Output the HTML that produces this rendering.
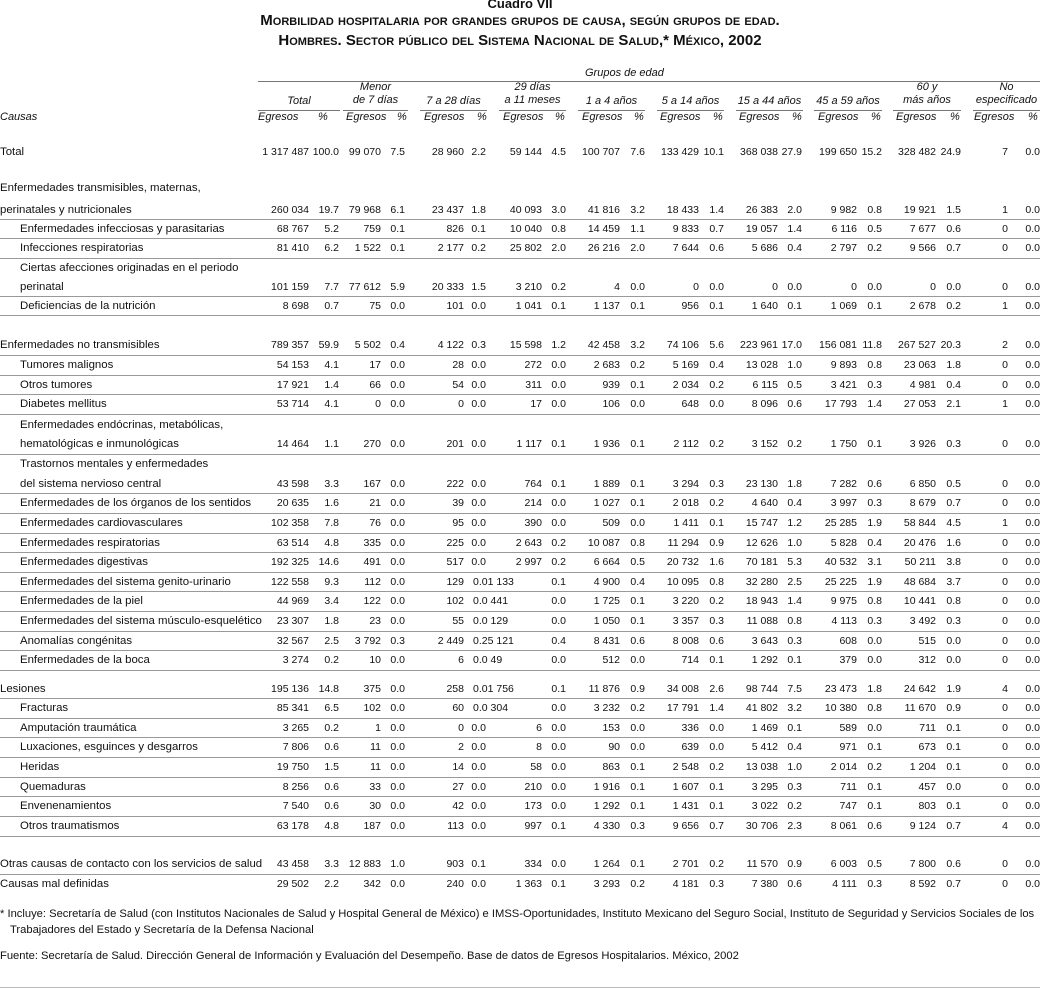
<!DOCTYPE html>
<html><head><meta charset="utf-8">
<style>
body{margin:0;width:1040px;height:990px;background:#fff;position:relative;overflow:hidden;font-family:"Liberation Sans",sans-serif;font-size:11px;color:#111}
.t{position:absolute;left:0;width:1040px;text-align:center;font-weight:bold;font-size:15px;font-variant:small-caps;line-height:18px}
.r{position:absolute;left:0;width:1040px;height:14px;line-height:14px}
.r span{position:absolute;left:0;white-space:nowrap;font-size:11.4px}
.r span.in{left:20px}
.r i{position:absolute;font-style:normal;white-space:nowrap;font-size:10.5px}
.a1{right:731px}.a2{right:701px}.a3{right:659px}.a4{right:635px}.a5{right:576px}.a6{right:554px}.a7{right:498px}.a8{right:474px}.a9{right:420px}.a10{right:395px}.a11{right:341px}.a12{right:316px}.a13{right:262px}.a14{right:238px}.a15{right:183px}.a16{right:158px}.a17{right:104px}.a18{right:79px}.a19{right:32px}.a20{right:0}
.bk{left:473px}
.ln{position:absolute;left:0;width:1040px;height:1px;background:#999}
.h{position:absolute;font-style:italic;font-size:11px;line-height:13px;text-align:center;white-space:nowrap}
.ul{position:absolute;height:1px;background:#777;top:110px}
.f{position:absolute;left:0;font-size:11.2px;line-height:14px;white-space:nowrap}
</style></head><body>
<div class="t" style="top:-5px;font-variant:normal;font-size:13px">Cuadro VII</div>
<div class="t" style="top:12px">Morbilidad hospitalaria por grandes grupos de causa, según grupos de edad.</div>
<div class="t" style="top:32px">Hombres. Sector público del Sistema Nacional de Salud,* México, 2002</div>

<div class="h" style="left:585px;top:67px">Grupos de edad</div>
<div class="ln" style="left:258px;width:782px;top:81px;background:#777"></div>
<div class="h" style="left:258px;width:82px;top:95px">Total</div>
<div class="h" style="left:343px;width:65px;top:81px">Menor<br>de 7 días</div>
<div class="h" style="left:420px;width:67px;top:95px">7 a 28 días</div>
<div class="h" style="left:499px;width:67px;top:81px">29 días<br>a 11 meses</div>
<div class="h" style="left:578px;width:67px;top:95px">1 a 4 años</div>
<div class="h" style="left:657px;width:67px;top:95px">5 a 14 años</div>
<div class="h" style="left:736px;width:67px;top:95px">15 a 44 años</div>
<div class="h" style="left:814px;width:68px;top:95px">45 a 59 años</div>
<div class="h" style="left:893px;width:68px;top:81px">60 y<br>más años</div>
<div class="h" style="left:973px;width:67px;top:81px">No<br>especificado</div>
<div class="ul" style="left:258px;width:82px"></div>
<div class="ul" style="left:343px;width:65px"></div>
<div class="ul" style="left:420px;width:67px"></div>
<div class="ul" style="left:499px;width:67px"></div>
<div class="ul" style="left:578px;width:67px"></div>
<div class="ul" style="left:657px;width:67px"></div>
<div class="ul" style="left:736px;width:67px"></div>
<div class="ul" style="left:814px;width:68px"></div>
<div class="ul" style="left:893px;width:68px"></div>
<div class="ul" style="left:973px;width:67px"></div>
<div class="h" style="left:0;top:111px">Causas</div>
<div class="h" style="left:258px;top:111px">Egresos</div><div class="h" style="left:318px;top:111px">%</div>
<div class="h" style="left:346px;top:111px">Egresos</div><div class="h" style="left:397px;top:111px">%</div>
<div class="h" style="left:424px;top:111px">Egresos</div><div class="h" style="left:477px;top:111px">%</div>
<div class="h" style="left:503px;top:111px">Egresos</div><div class="h" style="left:555px;top:111px">%</div>
<div class="h" style="left:582px;top:111px">Egresos</div><div class="h" style="left:634px;top:111px">%</div>
<div class="h" style="left:660px;top:111px">Egresos</div><div class="h" style="left:713px;top:111px">%</div>
<div class="h" style="left:739px;top:111px">Egresos</div><div class="h" style="left:792px;top:111px">%</div>
<div class="h" style="left:818px;top:111px">Egresos</div><div class="h" style="left:871px;top:111px">%</div>
<div class="h" style="left:896px;top:111px">Egresos</div><div class="h" style="left:950px;top:111px">%</div>
<div class="h" style="left:974px;top:111px">Egresos</div><div class="h" style="left:1028px;top:111px">%</div>

<div class="r" style="top:145px"><span>Total</span><i class="a1">1 317 487</i><i class="a2">100.0</i><i class="a3">99 070</i><i class="a4">7.5</i><i class="a5">28 960</i><i class="a6">2.2</i><i class="a7">59 144</i><i class="a8">4.5</i><i class="a9">100 707</i><i class="a10">7.6</i><i class="a11">133 429</i><i class="a12">10.1</i><i class="a13">368 038</i><i class="a14">27.9</i><i class="a15">199 650</i><i class="a16">15.2</i><i class="a17">328 482</i><i class="a18">24.9</i><i class="a19">7</i><i class="a20">0.0</i></div>

<div class="r" style="top:181px"><span>Enfermedades transmisibles, maternas,</span></div>
<div class="r" style="top:203px"><span>perinatales y nutricionales</span><i class="a1">260 034</i><i class="a2">19.7</i><i class="a3">79 968</i><i class="a4">6.1</i><i class="a5">23 437</i><i class="a6">1.8</i><i class="a7">40 093</i><i class="a8">3.0</i><i class="a9">41 816</i><i class="a10">3.2</i><i class="a11">18 433</i><i class="a12">1.4</i><i class="a13">26 383</i><i class="a14">2.0</i><i class="a15">9 982</i><i class="a16">0.8</i><i class="a17">19 921</i><i class="a18">1.5</i><i class="a19">1</i><i class="a20">0.0</i></div>
<div class="ln" style="top:219px"></div>
<div class="r" style="top:222px"><span class="in">Enfermedades infecciosas y parasitarias</span><i class="a1">68 767</i><i class="a2">5.2</i><i class="a3">759</i><i class="a4">0.1</i><i class="a5">826</i><i class="a6">0.1</i><i class="a7">10 040</i><i class="a8">0.8</i><i class="a9">14 459</i><i class="a10">1.1</i><i class="a11">9 833</i><i class="a12">0.7</i><i class="a13">19 057</i><i class="a14">1.4</i><i class="a15">6 116</i><i class="a16">0.5</i><i class="a17">7 677</i><i class="a18">0.6</i><i class="a19">0</i><i class="a20">0.0</i></div>
<div class="ln" style="top:238px"></div>
<div class="r" style="top:241px"><span class="in">Infecciones respiratorias</span><i class="a1">81 410</i><i class="a2">6.2</i><i class="a3">1 522</i><i class="a4">0.1</i><i class="a5">2 177</i><i class="a6">0.2</i><i class="a7">25 802</i><i class="a8">2.0</i><i class="a9">26 216</i><i class="a10">2.0</i><i class="a11">7 644</i><i class="a12">0.6</i><i class="a13">5 686</i><i class="a14">0.4</i><i class="a15">2 797</i><i class="a16">0.2</i><i class="a17">9 566</i><i class="a18">0.7</i><i class="a19">0</i><i class="a20">0.0</i></div>
<div class="ln" style="top:258px"></div>
<div class="r" style="top:261px"><span class="in">Ciertas afecciones originadas en el periodo</span></div>
<div class="r" style="top:280px"><span class="in">perinatal</span><i class="a1">101 159</i><i class="a2">7.7</i><i class="a3">77 612</i><i class="a4">5.9</i><i class="a5">20 333</i><i class="a6">1.5</i><i class="a7">3 210</i><i class="a8">0.2</i><i class="a9">4</i><i class="a10">0.0</i><i class="a11">0</i><i class="a12">0.0</i><i class="a13">0</i><i class="a14">0.0</i><i class="a15">0</i><i class="a16">0.0</i><i class="a17">0</i><i class="a18">0.0</i><i class="a19">0</i><i class="a20">0.0</i></div>
<div class="ln" style="top:296px"></div>
<div class="r" style="top:299px"><span class="in">Deficiencias de la nutrición</span><i class="a1">8 698</i><i class="a2">0.7</i><i class="a3">75</i><i class="a4">0.0</i><i class="a5">101</i><i class="a6">0.0</i><i class="a7">1 041</i><i class="a8">0.1</i><i class="a9">1 137</i><i class="a10">0.1</i><i class="a11">956</i><i class="a12">0.1</i><i class="a13">1 640</i><i class="a14">0.1</i><i class="a15">1 069</i><i class="a16">0.1</i><i class="a17">2 678</i><i class="a18">0.2</i><i class="a19">1</i><i class="a20">0.0</i></div>
<div class="ln" style="top:315px"></div>

<div class="r" style="top:338px"><span>Enfermedades no transmisibles</span><i class="a1">789 357</i><i class="a2">59.9</i><i class="a3">5 502</i><i class="a4">0.4</i><i class="a5">4 122</i><i class="a6">0.3</i><i class="a7">15 598</i><i class="a8">1.2</i><i class="a9">42 458</i><i class="a10">3.2</i><i class="a11">74 106</i><i class="a12">5.6</i><i class="a13">223 961</i><i class="a14">17.0</i><i class="a15">156 081</i><i class="a16">11.8</i><i class="a17">267 527</i><i class="a18">20.3</i><i class="a19">2</i><i class="a20">0.0</i></div>
<div class="ln" style="top:355px"></div>
<div class="r" style="top:358px"><span class="in">Tumores malignos</span><i class="a1">54 153</i><i class="a2">4.1</i><i class="a3">17</i><i class="a4">0.0</i><i class="a5">28</i><i class="a6">0.0</i><i class="a7">272</i><i class="a8">0.0</i><i class="a9">2 683</i><i class="a10">0.2</i><i class="a11">5 169</i><i class="a12">0.4</i><i class="a13">13 028</i><i class="a14">1.0</i><i class="a15">9 893</i><i class="a16">0.8</i><i class="a17">23 063</i><i class="a18">1.8</i><i class="a19">0</i><i class="a20">0.0</i></div>
<div class="ln" style="top:375px"></div>
<div class="r" style="top:378px"><span class="in">Otros tumores</span><i class="a1">17 921</i><i class="a2">1.4</i><i class="a3">66</i><i class="a4">0.0</i><i class="a5">54</i><i class="a6">0.0</i><i class="a7">311</i><i class="a8">0.0</i><i class="a9">939</i><i class="a10">0.1</i><i class="a11">2 034</i><i class="a12">0.2</i><i class="a13">6 115</i><i class="a14">0.5</i><i class="a15">3 421</i><i class="a16">0.3</i><i class="a17">4 981</i><i class="a18">0.4</i><i class="a19">0</i><i class="a20">0.0</i></div>
<div class="ln" style="top:394px"></div>
<div class="r" style="top:397px"><span class="in">Diabetes mellitus</span><i class="a1">53 714</i><i class="a2">4.1</i><i class="a3">0</i><i class="a4">0.0</i><i class="a5">0</i><i class="a6">0.0</i><i class="a7">17</i><i class="a8">0.0</i><i class="a9">106</i><i class="a10">0.0</i><i class="a11">648</i><i class="a12">0.0</i><i class="a13">8 096</i><i class="a14">0.6</i><i class="a15">17 793</i><i class="a16">1.4</i><i class="a17">27 053</i><i class="a18">2.1</i><i class="a19">1</i><i class="a20">0.0</i></div>
<div class="ln" style="top:414px"></div>
<div class="r" style="top:418px"><span class="in">Enfermedades endócrinas, metabólicas,</span></div>
<div class="r" style="top:437px"><span class="in">hematológicas e inmunológicas</span><i class="a1">14 464</i><i class="a2">1.1</i><i class="a3">270</i><i class="a4">0.0</i><i class="a5">201</i><i class="a6">0.0</i><i class="a7">1 117</i><i class="a8">0.1</i><i class="a9">1 936</i><i class="a10">0.1</i><i class="a11">2 112</i><i class="a12">0.2</i><i class="a13">3 152</i><i class="a14">0.2</i><i class="a15">1 750</i><i class="a16">0.1</i><i class="a17">3 926</i><i class="a18">0.3</i><i class="a19">0</i><i class="a20">0.0</i></div>
<div class="ln" style="top:454px"></div>
<div class="r" style="top:457px"><span class="in">Trastornos mentales y enfermedades</span></div>
<div class="r" style="top:477px"><span class="in">del sistema nervioso central</span><i class="a1">43 598</i><i class="a2">3.3</i><i class="a3">167</i><i class="a4">0.0</i><i class="a5">222</i><i class="a6">0.0</i><i class="a7">764</i><i class="a8">0.1</i><i class="a9">1 889</i><i class="a10">0.1</i><i class="a11">3 294</i><i class="a12">0.3</i><i class="a13">23 130</i><i class="a14">1.8</i><i class="a15">7 282</i><i class="a16">0.6</i><i class="a17">6 850</i><i class="a18">0.5</i><i class="a19">0</i><i class="a20">0.0</i></div>
<div class="ln" style="top:493px"></div>
<div class="r" style="top:496px"><span class="in">Enfermedades de los órganos de los sentidos</span><i class="a1">20 635</i><i class="a2">1.6</i><i class="a3">21</i><i class="a4">0.0</i><i class="a5">39</i><i class="a6">0.0</i><i class="a7">214</i><i class="a8">0.0</i><i class="a9">1 027</i><i class="a10">0.1</i><i class="a11">2 018</i><i class="a12">0.2</i><i class="a13">4 640</i><i class="a14">0.4</i><i class="a15">3 997</i><i class="a16">0.3</i><i class="a17">8 679</i><i class="a18">0.7</i><i class="a19">0</i><i class="a20">0.0</i></div>
<div class="ln" style="top:513px"></div>
<div class="r" style="top:516px"><span class="in">Enfermedades cardiovasculares</span><i class="a1">102 358</i><i class="a2">7.8</i><i class="a3">76</i><i class="a4">0.0</i><i class="a5">95</i><i class="a6">0.0</i><i class="a7">390</i><i class="a8">0.0</i><i class="a9">509</i><i class="a10">0.0</i><i class="a11">1 411</i><i class="a12">0.1</i><i class="a13">15 747</i><i class="a14">1.2</i><i class="a15">25 285</i><i class="a16">1.9</i><i class="a17">58 844</i><i class="a18">4.5</i><i class="a19">1</i><i class="a20">0.0</i></div>
<div class="ln" style="top:533px"></div>
<div class="r" style="top:536px"><span class="in">Enfermedades respiratorias</span><i class="a1">63 514</i><i class="a2">4.8</i><i class="a3">335</i><i class="a4">0.0</i><i class="a5">225</i><i class="a6">0.0</i><i class="a7">2 643</i><i class="a8">0.2</i><i class="a9">10 087</i><i class="a10">0.8</i><i class="a11">11 294</i><i class="a12">0.9</i><i class="a13">12 626</i><i class="a14">1.0</i><i class="a15">5 828</i><i class="a16">0.4</i><i class="a17">20 476</i><i class="a18">1.6</i><i class="a19">0</i><i class="a20">0.0</i></div>
<div class="ln" style="top:552px"></div>
<div class="r" style="top:555px"><span class="in">Enfermedades digestivas</span><i class="a1">192 325</i><i class="a2">14.6</i><i class="a3">491</i><i class="a4">0.0</i><i class="a5">517</i><i class="a6">0.0</i><i class="a7">2 997</i><i class="a8">0.2</i><i class="a9">6 664</i><i class="a10">0.5</i><i class="a11">20 732</i><i class="a12">1.6</i><i class="a13">70 181</i><i class="a14">5.3</i><i class="a15">40 532</i><i class="a16">3.1</i><i class="a17">50 211</i><i class="a18">3.8</i><i class="a19">0</i><i class="a20">0.0</i></div>
<div class="ln" style="top:572px"></div>
<div class="r" style="top:575px"><span class="in">Enfermedades del sistema genito-urinario</span><i class="a1">122 558</i><i class="a2">9.3</i><i class="a3">112</i><i class="a4">0.0</i><i class="a5">129</i><i class="bk">0.01 133</i><i class="a8">0.1</i><i class="a9">4 900</i><i class="a10">0.4</i><i class="a11">10 095</i><i class="a12">0.8</i><i class="a13">32 280</i><i class="a14">2.5</i><i class="a15">25 225</i><i class="a16">1.9</i><i class="a17">48 684</i><i class="a18">3.7</i><i class="a19">0</i><i class="a20">0.0</i></div>
<div class="ln" style="top:591px"></div>
<div class="r" style="top:594px"><span class="in">Enfermedades de la piel</span><i class="a1">44 969</i><i class="a2">3.4</i><i class="a3">122</i><i class="a4">0.0</i><i class="a5">102</i><i class="bk">0.0 441</i><i class="a8">0.0</i><i class="a9">1 725</i><i class="a10">0.1</i><i class="a11">3 220</i><i class="a12">0.2</i><i class="a13">18 943</i><i class="a14">1.4</i><i class="a15">9 975</i><i class="a16">0.8</i><i class="a17">10 441</i><i class="a18">0.8</i><i class="a19">0</i><i class="a20">0.0</i></div>
<div class="ln" style="top:611px"></div>
<div class="r" style="top:614px"><span class="in">Enfermedades del sistema músculo-esquelético</span><i class="a1">23 307</i><i class="a2">1.8</i><i class="a3">23</i><i class="a4">0.0</i><i class="a5">55</i><i class="bk">0.0 129</i><i class="a8">0.0</i><i class="a9">1 050</i><i class="a10">0.1</i><i class="a11">3 357</i><i class="a12">0.3</i><i class="a13">11 088</i><i class="a14">0.8</i><i class="a15">4 113</i><i class="a16">0.3</i><i class="a17">3 492</i><i class="a18">0.3</i><i class="a19">0</i><i class="a20">0.0</i></div>
<div class="ln" style="top:631px"></div>
<div class="r" style="top:634px"><span class="in">Anomalías congénitas</span><i class="a1">32 567</i><i class="a2">2.5</i><i class="a3">3 792</i><i class="a4">0.3</i><i class="a5">2 449</i><i class="bk">0.25 121</i><i class="a8">0.4</i><i class="a9">8 431</i><i class="a10">0.6</i><i class="a11">8 008</i><i class="a12">0.6</i><i class="a13">3 643</i><i class="a14">0.3</i><i class="a15">608</i><i class="a16">0.0</i><i class="a17">515</i><i class="a18">0.0</i><i class="a19">0</i><i class="a20">0.0</i></div>
<div class="ln" style="top:650px"></div>
<div class="r" style="top:653px"><span class="in">Enfermedades de la boca</span><i class="a1">3 274</i><i class="a2">0.2</i><i class="a3">10</i><i class="a4">0.0</i><i class="a5">6</i><i class="bk">0.0 49</i><i class="a8">0.0</i><i class="a9">512</i><i class="a10">0.0</i><i class="a11">714</i><i class="a12">0.1</i><i class="a13">1 292</i><i class="a14">0.1</i><i class="a15">379</i><i class="a16">0.0</i><i class="a17">312</i><i class="a18">0.0</i><i class="a19">0</i><i class="a20">0.0</i></div>
<div class="ln" style="top:670px"></div>

<div class="r" style="top:682px"><span>Lesiones</span><i class="a1">195 136</i><i class="a2">14.8</i><i class="a3">375</i><i class="a4">0.0</i><i class="a5">258</i><i class="bk">0.01 756</i><i class="a8">0.1</i><i class="a9">11 876</i><i class="a10">0.9</i><i class="a11">34 008</i><i class="a12">2.6</i><i class="a13">98 744</i><i class="a14">7.5</i><i class="a15">23 473</i><i class="a16">1.8</i><i class="a17">24 642</i><i class="a18">1.9</i><i class="a19">4</i><i class="a20">0.0</i></div>
<div class="ln" style="top:698px"></div>
<div class="r" style="top:701px"><span class="in">Fracturas</span><i class="a1">85 341</i><i class="a2">6.5</i><i class="a3">102</i><i class="a4">0.0</i><i class="a5">60</i><i class="bk">0.0 304</i><i class="a8">0.0</i><i class="a9">3 232</i><i class="a10">0.2</i><i class="a11">17 791</i><i class="a12">1.4</i><i class="a13">41 802</i><i class="a14">3.2</i><i class="a15">10 380</i><i class="a16">0.8</i><i class="a17">11 670</i><i class="a18">0.9</i><i class="a19">0</i><i class="a20">0.0</i></div>
<div class="ln" style="top:718px"></div>
<div class="r" style="top:721px"><span class="in">Amputación traumática</span><i class="a1">3 265</i><i class="a2">0.2</i><i class="a3">1</i><i class="a4">0.0</i><i class="a5">0</i><i class="a6">0.0</i><i class="a7">6</i><i class="a8">0.0</i><i class="a9">153</i><i class="a10">0.0</i><i class="a11">336</i><i class="a12">0.0</i><i class="a13">1 469</i><i class="a14">0.1</i><i class="a15">589</i><i class="a16">0.0</i><i class="a17">711</i><i class="a18">0.1</i><i class="a19">0</i><i class="a20">0.0</i></div>
<div class="ln" style="top:737px"></div>
<div class="r" style="top:740px"><span class="in">Luxaciones, esguinces y desgarros</span><i class="a1">7 806</i><i class="a2">0.6</i><i class="a3">11</i><i class="a4">0.0</i><i class="a5">2</i><i class="a6">0.0</i><i class="a7">8</i><i class="a8">0.0</i><i class="a9">90</i><i class="a10">0.0</i><i class="a11">639</i><i class="a12">0.0</i><i class="a13">5 412</i><i class="a14">0.4</i><i class="a15">971</i><i class="a16">0.1</i><i class="a17">673</i><i class="a18">0.1</i><i class="a19">0</i><i class="a20">0.0</i></div>
<div class="ln" style="top:757px"></div>
<div class="r" style="top:760px"><span class="in">Heridas</span><i class="a1">19 750</i><i class="a2">1.5</i><i class="a3">11</i><i class="a4">0.0</i><i class="a5">14</i><i class="a6">0.0</i><i class="a7">58</i><i class="a8">0.0</i><i class="a9">863</i><i class="a10">0.1</i><i class="a11">2 548</i><i class="a12">0.2</i><i class="a13">13 038</i><i class="a14">1.0</i><i class="a15">2 014</i><i class="a16">0.2</i><i class="a17">1 204</i><i class="a18">0.1</i><i class="a19">0</i><i class="a20">0.0</i></div>
<div class="ln" style="top:777px"></div>
<div class="r" style="top:780px"><span class="in">Quemaduras</span><i class="a1">8 256</i><i class="a2">0.6</i><i class="a3">33</i><i class="a4">0.0</i><i class="a5">27</i><i class="a6">0.0</i><i class="a7">210</i><i class="a8">0.0</i><i class="a9">1 916</i><i class="a10">0.1</i><i class="a11">1 607</i><i class="a12">0.1</i><i class="a13">3 295</i><i class="a14">0.3</i><i class="a15">711</i><i class="a16">0.1</i><i class="a17">457</i><i class="a18">0.0</i><i class="a19">0</i><i class="a20">0.0</i></div>
<div class="ln" style="top:796px"></div>
<div class="r" style="top:799px"><span class="in">Envenenamientos</span><i class="a1">7 540</i><i class="a2">0.6</i><i class="a3">30</i><i class="a4">0.0</i><i class="a5">42</i><i class="a6">0.0</i><i class="a7">173</i><i class="a8">0.0</i><i class="a9">1 292</i><i class="a10">0.1</i><i class="a11">1 431</i><i class="a12">0.1</i><i class="a13">3 022</i><i class="a14">0.2</i><i class="a15">747</i><i class="a16">0.1</i><i class="a17">803</i><i class="a18">0.1</i><i class="a19">0</i><i class="a20">0.0</i></div>
<div class="ln" style="top:816px"></div>
<div class="r" style="top:819px"><span class="in">Otros traumatismos</span><i class="a1">63 178</i><i class="a2">4.8</i><i class="a3">187</i><i class="a4">0.0</i><i class="a5">113</i><i class="a6">0.0</i><i class="a7">997</i><i class="a8">0.1</i><i class="a9">4 330</i><i class="a10">0.3</i><i class="a11">9 656</i><i class="a12">0.7</i><i class="a13">30 706</i><i class="a14">2.3</i><i class="a15">8 061</i><i class="a16">0.6</i><i class="a17">9 124</i><i class="a18">0.7</i><i class="a19">4</i><i class="a20">0.0</i></div>
<div class="ln" style="top:836px"></div>

<div class="r" style="top:857px"><span>Otras causas de contacto con los servicios de salud</span><i class="a1">43 458</i><i class="a2">3.3</i><i class="a3">12 883</i><i class="a4">1.0</i><i class="a5">903</i><i class="a6">0.1</i><i class="a7">334</i><i class="a8">0.0</i><i class="a9">1 264</i><i class="a10">0.1</i><i class="a11">2 701</i><i class="a12">0.2</i><i class="a13">11 570</i><i class="a14">0.9</i><i class="a15">6 003</i><i class="a16">0.5</i><i class="a17">7 800</i><i class="a18">0.6</i><i class="a19">0</i><i class="a20">0.0</i></div>
<div class="ln" style="top:874px"></div>
<div class="r" style="top:877px"><span>Causas mal definidas</span><i class="a1">29 502</i><i class="a2">2.2</i><i class="a3">342</i><i class="a4">0.0</i><i class="a5">240</i><i class="a6">0.0</i><i class="a7">1 363</i><i class="a8">0.1</i><i class="a9">3 293</i><i class="a10">0.2</i><i class="a11">4 181</i><i class="a12">0.3</i><i class="a13">7 380</i><i class="a14">0.6</i><i class="a15">4 111</i><i class="a16">0.3</i><i class="a17">8 592</i><i class="a18">0.7</i><i class="a19">0</i><i class="a20">0.0</i></div>

<div class="f" style="top:907px">* Incluye: Secretaría de Salud (con Institutos Nacionales de Salud y Hospital General de México) e IMSS-Oportunidades, Instituto Mexicano del Seguro Social, Instituto de Seguridad y Servicios Sociales de los</div>
<div class="f" style="top:923px;left:10px">Trabajadores del Estado y Secretaría de la Defensa Nacional</div>
<div class="f" style="top:949px">Fuente: Secretaría de Salud. Dirección General de Información y Evaluación del Desempeño. Base de datos de Egresos Hospitalarios. México, 2002</div>
<div class="ln" style="top:987px;background:#bbb"></div>
</body></html>
